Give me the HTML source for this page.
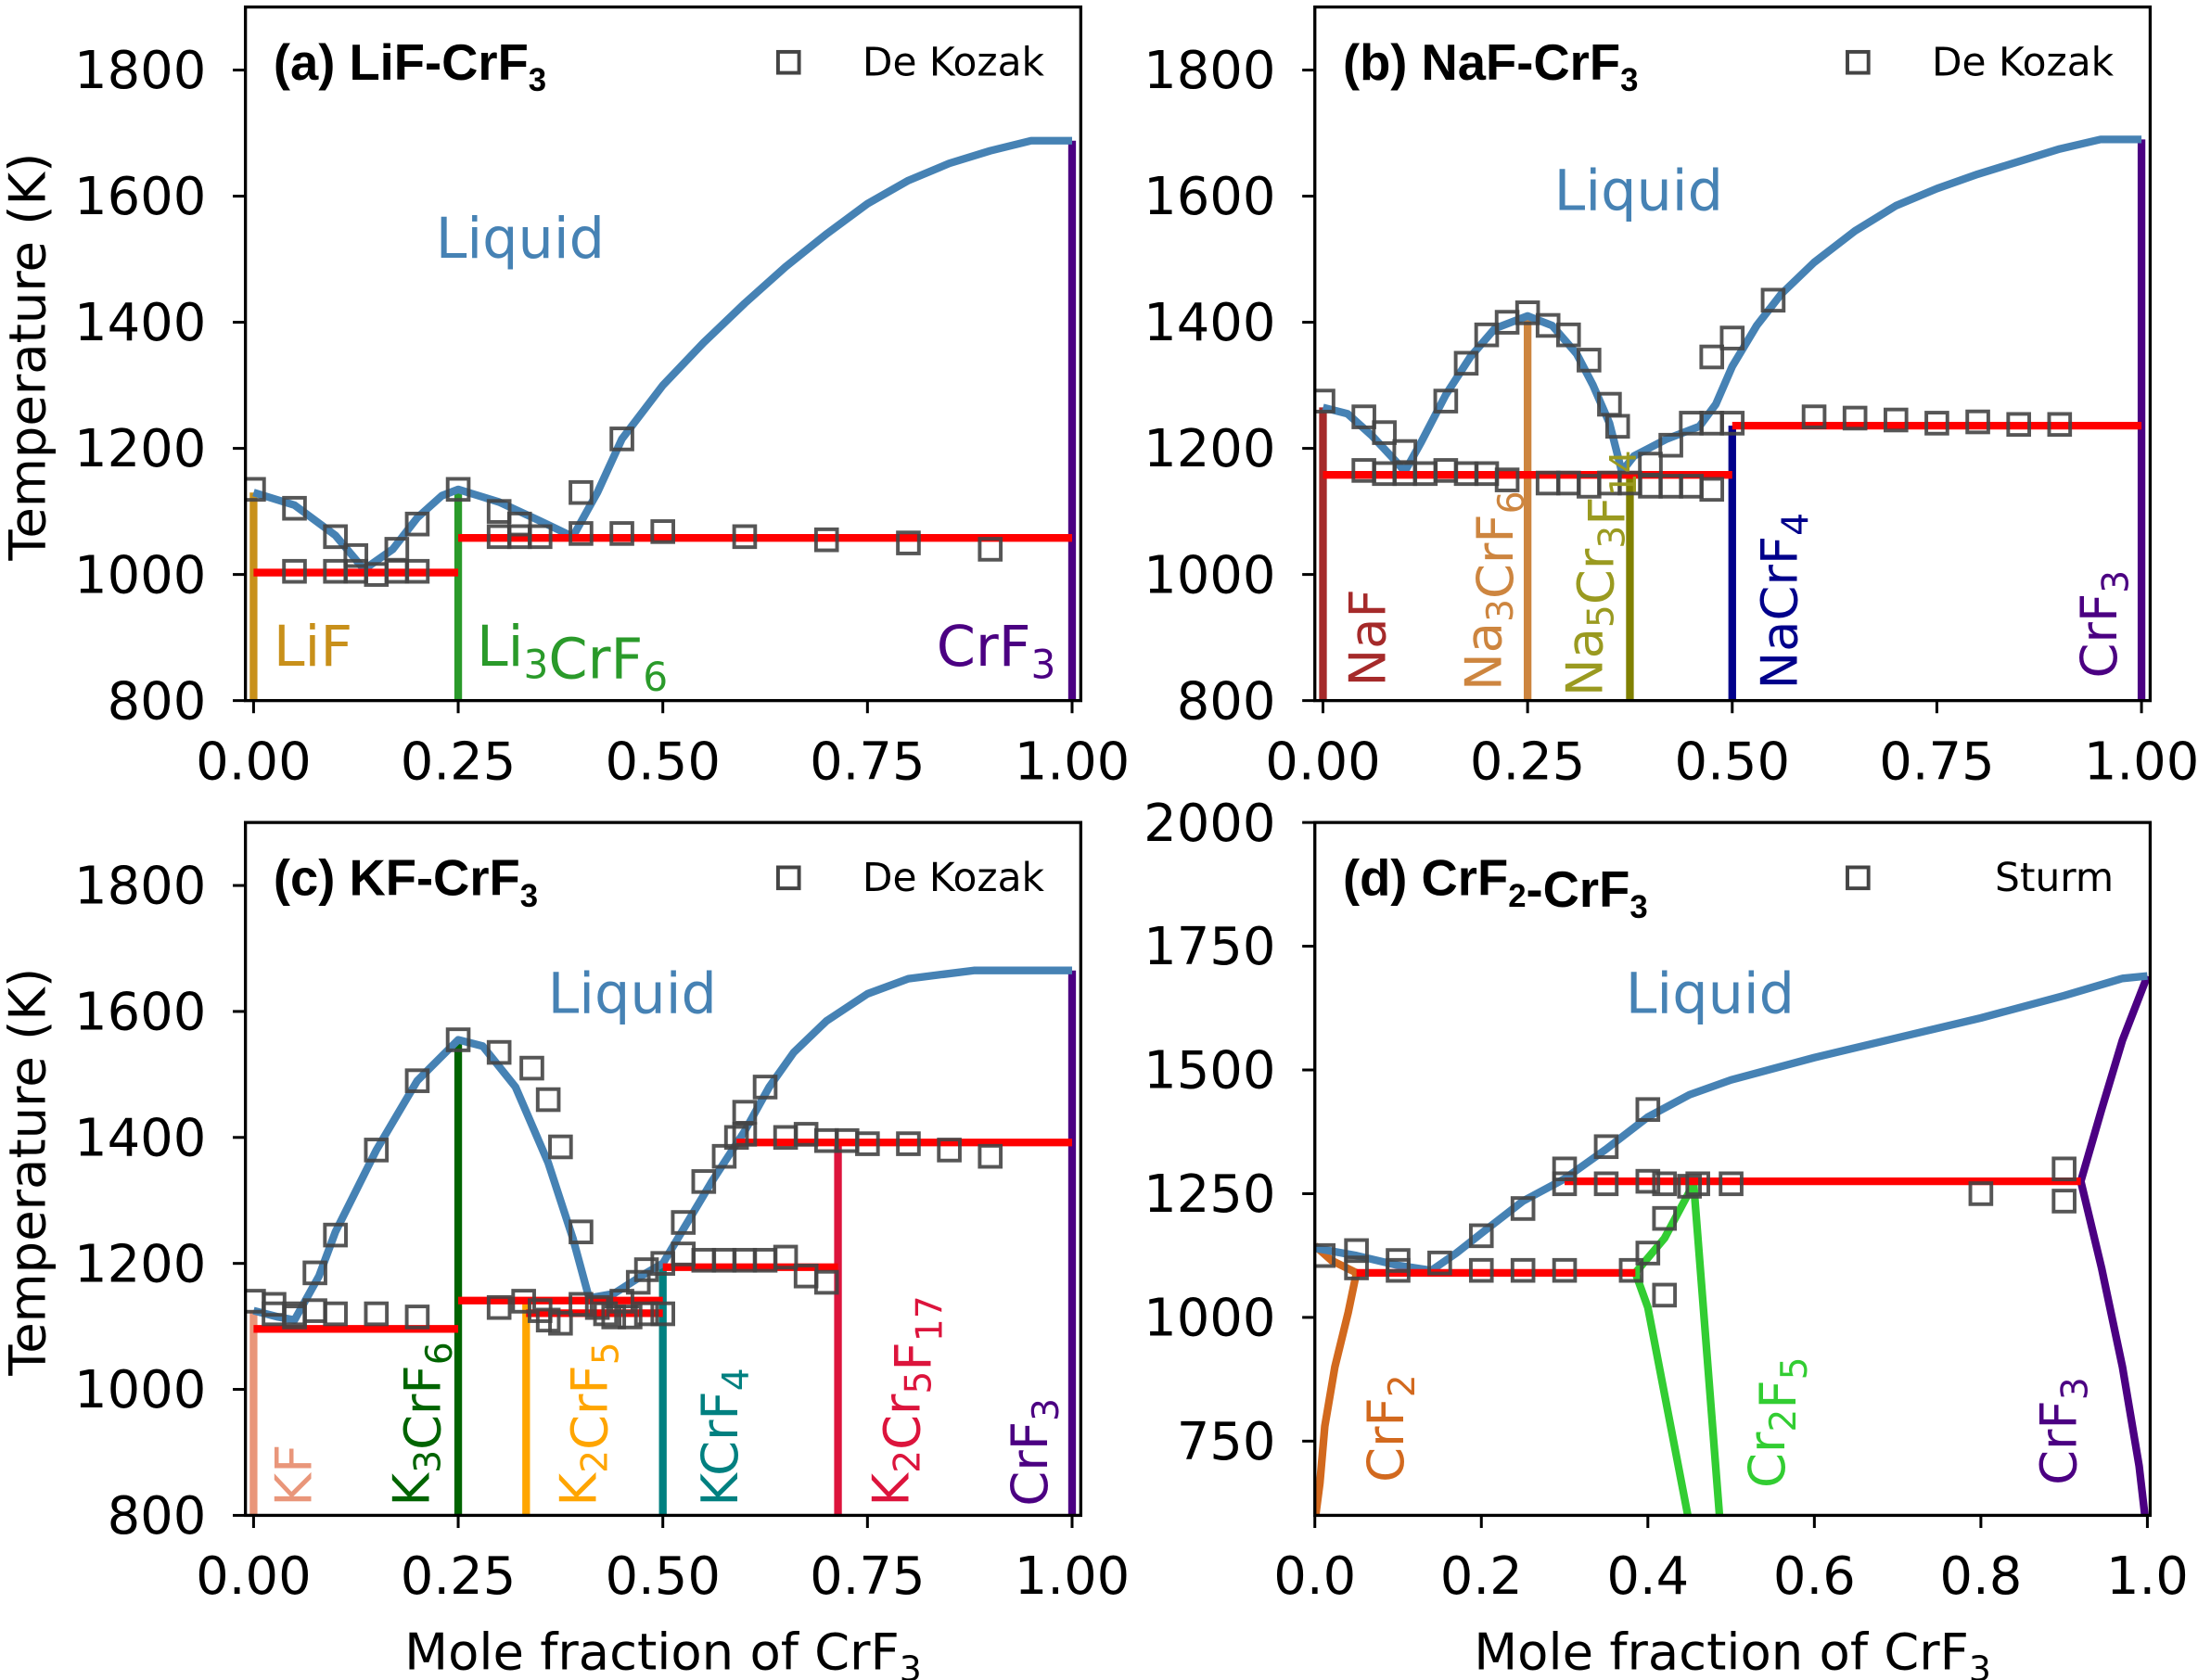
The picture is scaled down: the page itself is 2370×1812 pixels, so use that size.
<!DOCTYPE html>
<html><head><meta charset="utf-8">
<style>
html,body{margin:0;padding:0;background:#fff;}
svg{display:block;}
text{font-family:"DejaVu Sans","Liberation Sans",sans-serif;}
.tick{font-size:37px;fill:#000;}
.ttl{font-family:"Liberation Sans",sans-serif;font-weight:bold;font-size:36px;}
.lbl{font-size:40px;}
.vlbl{font-size:36px;}
</style></head>
<body>
<svg id="fig" xmlns="http://www.w3.org/2000/svg" width="2370" height="1812" viewBox="0 0 1568 1199">
<rect x="0" y="0" width="1568" height="1199" fill="#fff"/>
</svg>
<script>
// ---------- Panel (a) LiF-CrF3 ----------
const aLiqX=[0,0.05,0.10,0.135,0.17,0.20,0.23,0.25,0.30,0.35,0.39,0.42,0.45,0.50,0.55,0.60,0.65,0.70,0.75,0.80,0.85,0.90,0.95,1.0];
const aLiqT=[1130,1110,1062,1008,1040,1090,1125,1135,1115,1085,1060,1130,1215,1300,1368,1430,1488,1540,1588,1625,1652,1672,1688,1688];
const aSolid=[[0,0.25,1003],[0.25,1.0,1058]];
const aCompX=[0,0.25,1.0];
const aCompT=[1130,1135,1688];
const aPtX=[0,0.05,0.05,0.10,0.10,0.125,0.125,0.15,0.175,0.175,0.20,0.20,0.25,0.30,0.30,0.325,0.325,0.35,0.40,0.40,0.45,0.45,0.50,0.60,0.70,0.80,0.90];
const aPtT=[1135,1105,1005,1060,1005,1030,1005,1000,1040,1005,1080,1005,1135,1100,1060,1080,1060,1060,1130,1065,1215,1065,1068,1060,1055,1050,1040];
// ---------- Panel (b) NaF-CrF3 ----------
const bLiqX=[0,0.03,0.06,0.09,0.10,0.12,0.15,0.18,0.21,0.25,0.28,0.31,0.33,0.35,0.365,0.38,0.42,0.46,0.48,0.50,0.53,0.56,0.60,0.65,0.70,0.75,0.80,0.85,0.90,0.95,1.0];
const bLiqT=[1265,1255,1220,1178,1163,1210,1285,1345,1390,1410,1395,1350,1300,1240,1163,1188,1215,1235,1270,1330,1395,1445,1495,1545,1585,1612,1635,1655,1675,1690,1690];
const bSolid=[[0,0.5,1158],[0.5,1.0,1236]];
const bCompX=[0,0.25,0.375,0.5,1.0];
const bCompT=[1265,1410,1158,1236,1690];
const bPtX=[0,0.05,0.075,0.10,0.05,0.075,0.10,0.125,0.15,0.175,0.20,0.225,0.15,0.175,0.20,0.225,0.25,0.275,0.30,0.325,0.35,0.36,0.275,0.30,0.325,0.35,0.375,0.40,0.425,0.45,0.475,0.40,0.425,0.45,0.475,0.50,0.475,0.50,0.55,0.60,0.65,0.70,0.75,0.80,0.85,0.90];
const bPtT=[1275,1250,1225,1195,1165,1160,1160,1160,1165,1160,1160,1150,1275,1335,1380,1400,1415,1395,1380,1340,1270,1235,1145,1145,1140,1145,1145,1140,1140,1140,1135,1175,1205,1240,1240,1240,1345,1375,1435,1250,1248,1245,1240,1242,1238,1238];
// ---------- Panel (c) KF-CrF3 ----------
const cLiqX=[0,0.03,0.05,0.08,0.10,0.15,0.20,0.25,0.28,0.32,0.36,0.39,0.41,0.44,0.48,0.50,0.53,0.56,0.60,0.63,0.66,0.70,0.75,0.80,0.88,1.0];
const cLiqT=[1125,1115,1110,1180,1250,1380,1490,1555,1545,1480,1360,1240,1145,1152,1185,1200,1265,1330,1410,1480,1535,1585,1628,1652,1665,1665];
const cSolid=[[0,0.25,1096],[0.25,0.5,1141],[0.333,0.5,1121],[0.5,0.714,1194],[0.59,1.0,1392]];
const cCompX=[0,0.25,0.333,0.5,0.714,1.0];
const cCompT=[1125,1555,1141,1200,1392,1665];
const cPtX=[0,0.025,0.05,0.025,0.05,0.075,0.075,0.10,0.10,0.15,0.15,0.20,0.20,0.25,0.30,0.34,0.36,0.375,0.40,0.30,0.33,0.35,0.36,0.375,0.40,0.42,0.43,0.44,0.46,0.48,0.50,0.45,0.47,0.48,0.50,0.525,0.55,0.575,0.60,0.625,0.65,0.675,0.70,0.525,0.55,0.575,0.59,0.60,0.625,0.60,0.65,0.675,0.70,0.725,0.75,0.80,0.85,0.90];
const cPtT=[1140,1135,1120,1120,1115,1185,1125,1245,1120,1380,1120,1490,1115,1555,1535,1510,1460,1385,1250,1130,1140,1125,1110,1105,1135,1130,1120,1115,1115,1120,1120,1140,1170,1190,1200,1215,1205,1205,1205,1205,1210,1180,1170,1265,1330,1370,1400,1440,1480,1405,1400,1405,1395,1395,1390,1390,1380,1370];
// ---------- Panel (d) CrF2-CrF3 ----------
const dLiqX=[0,0.05,0.10,0.14,0.17,0.20,0.25,0.30,0.35,0.40,0.45,0.50,0.60,0.70,0.80,0.90,0.97,1.0];
const dLiqT=[1140,1125,1105,1095,1130,1170,1235,1280,1340,1405,1450,1480,1525,1565,1605,1650,1685,1690];
const dSolid=[[0.05,0.385,1090],[0.30,0.92,1275]];
const dCrF2X=[0.001,0.006,0.012,0.024,0.04,0.05];
const dCrF2T=[600,665,780,900,1010,1090];
const dCrF2bX=[0,0.02,0.05];
const dCrF2bT=[1145,1115,1090];
const dCr2F5X=[0.448,0.40,0.385,0.42,0.455,0.486];
const dCr2F5T=[600,1020,1090,1160,1270,600];
const dCrF3X=[1.0,0.97,0.945,0.92,0.945,0.97,0.99,0.997];
const dCrF3T=[1690,1560,1420,1275,1100,900,700,600];
const dPtX=[0.01,0.05,0.05,0.10,0.10,0.15,0.20,0.20,0.25,0.25,0.30,0.30,0.30,0.35,0.35,0.40,0.40,0.38,0.40,0.42,0.42,0.42,0.45,0.46,0.50,0.80,0.90,0.90];
const dPtT=[1125,1135,1100,1115,1095,1110,1165,1095,1220,1095,1300,1270,1095,1345,1270,1420,1275,1095,1130,1270,1200,1045,1265,1270,1270,1250,1300,1235];

const NS='http://www.w3.org/2000/svg';
const svg=document.getElementById('fig');
function mk(tag,attrs,parent){const e=document.createElementNS(NS,tag);for(const k in attrs)e.setAttribute(k,attrs[k]);(parent||svg).appendChild(e);return e;}

const P={
 a:{L:175,R:771,T:5,B:500,x0:180.8,xs:584,ymin:800,ymax:1900,xticks:[0,0.25,0.5,0.75,1.0],xlab:['0.00','0.25','0.50','0.75','1.00'],yticks:[800,1000,1200,1400,1600,1800]},
 b:{L:938,R:1534,T:5,B:500,x0:943.8,xs:584,ymin:800,ymax:1900,xticks:[0,0.25,0.5,0.75,1.0],xlab:['0.00','0.25','0.50','0.75','1.00'],yticks:[800,1000,1200,1400,1600,1800]},
 c:{L:175,R:771,T:587,B:1081.5,x0:180.8,xs:584,ymin:800,ymax:1900,xticks:[0,0.25,0.5,0.75,1.0],xlab:['0.00','0.25','0.50','0.75','1.00'],yticks:[800,1000,1200,1400,1600,1800]},
 d:{L:938,R:1534,T:587,B:1081.5,x0:938,xs:594,ymin:600,ymax:2000,xticks:[0,0.2,0.4,0.6,0.8,1.0],xlab:['0.0','0.2','0.4','0.6','0.8','1.0'],yticks:[750,1000,1250,1500,1750,2000]}
};
function X(p,v){return p.x0+v*p.xs;}
function Y(p,t){return p.B-(t-p.ymin)/(p.ymax-p.ymin)*(p.B-p.T);}

function clip(id,p){const d=mk('clipPath',{id:id});mk('rect',{x:p.L,y:p.T,width:p.R-p.L,height:p.B-p.T},d);}
function poly(g,p,xs,ts,color,w,name){
  const pts=xs.map((x,i)=>X(p,x).toFixed(1)+','+Y(p,ts[i]).toFixed(1)).join(' ');
  const e=mk('polyline',{points:pts,fill:'none',stroke:color,'stroke-width':w,'stroke-linejoin':'round'},g);
  
  
}
function solids(g,p,arr,name){
  arr.forEach(s=>{const e=mk('line',{x1:X(p,s[0]),x2:X(p,s[1]),y1:Y(p,s[2]),y2:Y(p,s[2]),stroke:'#ff0000','stroke-width':5.5},g);
  
  });
}
function comps(g,p,xs,ts,colors){
  xs.forEach((x,i)=>{const e=mk('line',{x1:X(p,x),x2:X(p,x),y1:p.B,y2:Y(p,ts[i]),stroke:colors[i],'stroke-width':5.5},g);
  
  });
}
function pts(g,p,xs,ts){
  xs.forEach((x,i)=>{const s=15;const e=mk('rect',{x:X(p,x)-s/2,y:Y(p,ts[i])-s/2,width:s,height:s,fill:'none',stroke:'#444','stroke-width':2.6,'stroke-opacity':0.9},g);
  
  });
}
function axes(key,p,showXlabel,showYlabel){
  const g=mk('g',{});
  
  
  mk('rect',{x:p.L,y:p.T,width:p.R-p.L,height:p.B-p.T,fill:'none',stroke:'#000','stroke-width':2.2},g);
  p.yticks.forEach(t=>{const y=Y(p,t);mk('line',{x1:p.L-9,x2:p.L,y1:y,y2:y,stroke:'#000','stroke-width':2},g);
    const tx=mk('text',{x:p.L-28,y:y+13,'text-anchor':'end',class:'tick'},g);tx.textContent=t;
    
    });
  p.xticks.forEach((v,i)=>{const x=X(p,v);mk('line',{x1:x,x2:x,y1:p.B,y2:p.B+9,stroke:'#000','stroke-width':2},g);
    const tx=mk('text',{x:x,y:p.B+56,'text-anchor':'middle',class:'tick'},g);tx.textContent=p.xlab[i];
    
    });
  if(showYlabel){const cy=(p.T+p.B)/2+2;const t=mk('text',{x:0,y:0,transform:`translate(32,${cy}) rotate(-90)`,'text-anchor':'middle','font-size':36},g);t.textContent='Temperature (K)';
    
    }
  if(showXlabel){const t=mk('text',{x:(p.L+p.R)/2,y:p.B+110,'text-anchor':'middle','font-size':36},g);t.innerHTML='Mole fraction of CrF<tspan font-size="25" dy="8">3</tspan>';
    
    }
}
function title(p,html){const t=mk('text',{x:p.L+20,y:p.T+52,class:'ttl'});t.innerHTML=html;
  
  }
function legend(p,label){const g=mk('g',{});
  
  
  mk('rect',{x:p.L+380,y:p.T+32,width:15,height:15,fill:'none',stroke:'#444','stroke-width':2.6},g);
  const t=mk('text',{x:p.R-26,y:p.T+49,'text-anchor':'end','font-size':28},g);t.textContent=label;}
function liquidLabel(x,y){const t=mk('text',{x:x,y:y,'text-anchor':'middle',class:'lbl',fill:'#4682b4'});t.textContent='Liquid';
  
  }
function hlabel(x,y,html,color){const t=mk('text',{x:x,y:y,class:'lbl',fill:color});t.innerHTML=html;
  
  }
function vlabel(x,y,html,color){const t=mk('text',{x:0,y:0,transform:`translate(${x},${y}) rotate(-90)`,class:'vlbl',fill:color});t.innerHTML=html;
  
  }
const sub=s=>`<tspan font-size="26" dy="8">${s}</tspan><tspan dy="-8"></tspan>`;
const hsub=s=>`<tspan font-size="28" dy="9">${s}</tspan><tspan dy="-9"></tspan>`;
const tsub=s=>`<tspan font-size="23" dy="8">${s}</tspan><tspan dy="-8"></tspan>`;

['a','b','c','d'].forEach(k=>clip('clip-'+k,P[k]));

// Panel a
{const p=P.a;const g=mk('g',{'clip-path':'url(#clip-a)'});
 comps(g,p,aCompX,aCompT,['#c8901a','#2a9a2a','#4b0082']);
 poly(g,p,aLiqX,aLiqT,'#4682b4',5.5,'liquidus-line');
 solids(g,p,aSolid,'solidus-line');
 pts(g,p,aPtX,aPtT);
 axes('a',p,false,true);title(p,'(a) LiF-CrF'+tsub(3));legend(p,'De Kozak');liquidLabel(371,184);
 hlabel(195,475,'LiF','#c8901a');hlabel(340,475,'Li'+hsub(3)+'CrF'+hsub(6),'#2a9a2a');hlabel(668,475,'CrF'+hsub(3),'#4b0082');}
// Panel b
{const p=P.b;const g=mk('g',{'clip-path':'url(#clip-b)'});
 comps(g,p,bCompX,bCompT,['#a52a2a','#cd853f','#808000','#00008b','#4b0082']);
 poly(g,p,bLiqX,bLiqT,'#4682b4',5.5,'liquidus-line');
 solids(g,p,bSolid,'solidus-line');
 pts(g,p,bPtX,bPtT);
 axes('b',p,false,false);title(p,'(b) NaF-CrF'+tsub(3));legend(p,'De Kozak');liquidLabel(1169,150);
 vlabel(988,490,'NaF','#a52a2a');vlabel(1071,493,'Na'+sub(3)+'CrF'+sub(6),'#cd853f');
 vlabel(1143,497,'Na'+sub(5)+'Cr'+sub(3)+'F'+sub(14),'#9a9a20');vlabel(1282,492,'NaCrF'+sub(4),'#00008b');vlabel(1510,484,'CrF'+sub(3),'#4b0082');}
// Panel c
{const p=P.c;const g=mk('g',{'clip-path':'url(#clip-c)'});
 comps(g,p,cCompX,cCompT,['#e9967a','#006400','#ffa500','#008080','#dc143c','#4b0082']);
 poly(g,p,cLiqX,cLiqT,'#4682b4',5.5,'liquidus-line');
 solids(g,p,cSolid,'solidus-line');
 pts(g,p,cPtX,cPtT);
 axes('c',p,true,true);title(p,'(c) KF-CrF'+tsub(3));legend(p,'De Kozak');liquidLabel(451,723);
 vlabel(222,1075,'KF','#e9967a');vlabel(306,1075,'K'+sub(3)+'CrF'+sub(6),'#006400');vlabel(425,1075,'K'+sub(2)+'CrF'+sub(5),'#ffa500');
 vlabel(526,1075,'KCrF'+sub(4),'#008080');vlabel(648,1075,'K'+sub(2)+'Cr'+sub(5)+'F'+sub(17),'#dc143c');vlabel(747,1075,'CrF'+sub(3),'#4b0082');}
// Panel d
{const p=P.d;const g=mk('g',{'clip-path':'url(#clip-d)'});
 poly(g,p,dCrF2X,dCrF2T,'#d2691e',5.5,'crf2-boundary');
 poly(g,p,dCrF2bX,dCrF2bT,'#d2691e',5.5,'crf2-boundary');
 poly(g,p,dCr2F5X,dCr2F5T,'#32cd32',5.5,'cr2f5-boundary');
 poly(g,p,dCrF3X,dCrF3T,'#4b0082',5.5,'crf3-boundary');
 poly(g,p,dLiqX,dLiqT,'#4682b4',5.5,'liquidus-line');
 solids(g,p,dSolid,'solidus-line');
 pts(g,p,dPtX,dPtT);
 axes('d',p,true,false);title(p,'(d) CrF'+tsub(2)+'-CrF'+tsub(3));legend(p,'Sturm');liquidLabel(1220,723);
 vlabel(1001,1058,'CrF'+sub(2),'#d2691e');vlabel(1273,1062,'Cr'+sub(2)+'F'+sub(5),'#32cd32');vlabel(1481,1060,'CrF'+sub(3),'#4b0082');}
</script>
</body></html>
